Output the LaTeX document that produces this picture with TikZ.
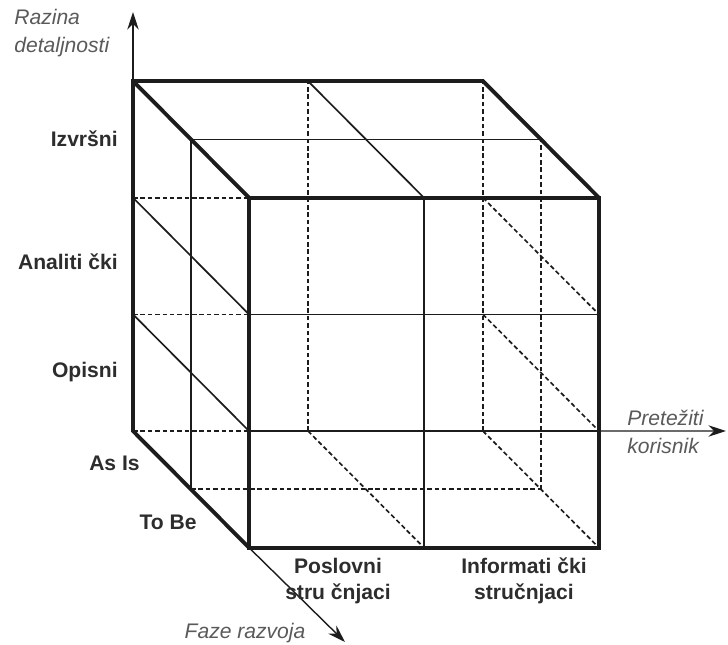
\documentclass[tikz,border=0pt]{standalone}
\usepackage{fontspec}
\setmainfont{Liberation Sans}
\usetikzlibrary{arrows.meta}
\definecolor{cubeEdge}{RGB}{28,28,28}
\definecolor{cubeText}{RGB}{45,45,45}
\definecolor{axisText}{RGB}{90,90,90}
\tikzset{
    cube/.style={>={Stealth[length=10pt,width=6.5pt]}, line join=miter},
    edge/.style={draw=cubeEdge, line width=2.2pt},
    grid/.style={draw=cubeEdge, line width=0.95pt},
    hidden/.style={draw=cubeEdge, line width=0.95pt,
                   dash pattern=on 2.6pt off 1.6pt},
    axis/.style={->, draw=cubeEdge, line width=0.8pt},
    level/.style={font=\fontsize{12}{15}\selectfont\bfseries, text=cubeText,
                  inner sep=0pt, align=center},
    axislabel/.style={font=\fontsize{12}{16}\selectfont\itshape, text=axisText,
                      inner sep=0pt, align=left},
}

\begin{document}
\begin{tikzpicture}[cube, x=0.02cm, y=-0.02cm]
\useasboundingbox (0,0) rectangle (728,645);

% ─── Kocka: x = korisnik, y = faza, z = razina ─────────────────────────
\begin{scope}[shift={(133,431)}, x={(7cm,0cm)}, y={(2.32cm,-2.333cm)},
              z={(0cm,7cm)}]
  \coordinate (bbl) at (0,0,0);  \coordinate (bbr) at (1,0,0);
  \coordinate (btl) at (0,0,1);  \coordinate (btr) at (1,0,1);
  \coordinate (fbl) at (0,1,0);  \coordinate (fbr) at (1,1,0);
  \coordinate (ftl) at (0,1,1);  \coordinate (ftr) at (1,1,1);
  \coordinate (fr1) at (1,1,1/3);

  % skrivene linije
  \foreach \h in {0,1/3,2/3}
    \draw[hidden] (0,0,\h) -- (1,0,\h);
  \foreach \w in {0.5,1}
    \draw[hidden] (\w,0,0) -- (\w,0,1);
  \foreach \h in {1/3,2/3}
    \draw[hidden] (1,0,\h) -- (1,1,\h);
  \draw[hidden] (1,0.5,0) -- (1,0.5,1);
  \foreach \w in {0.5,1}
    \draw[hidden] (\w,0,0) -- (\w,1,0);
  \draw[hidden] (0,0.5,0) -- (1,0.5,0);

  % vidljiva podjela
  \draw[grid] (0,0.5,0) -- (0,0.5,1);
  \foreach \h in {1/3,2/3}
    \draw[grid] (0,0,\h) -- (0,1,\h);
  \draw[grid] (0.5,0,1) -- (0.5,1,1);
  \draw[grid] (0,0.5,1) -- (1,0.5,1);
  \draw[grid] (0.5,1,0) -- (0.5,1,1);
  \foreach \h in {1/3,2/3}
    \draw[grid] (0,1,\h) -- (1,1,\h);

  % rubovi
  \draw[edge] (fbl) -- (fbr) -- (ftr) -- (ftl) -- cycle;
  \draw[edge] (fbl) -- (bbl) -- (btl) -- (btr) -- (ftr);
  \draw[edge] (btl) -- (ftl);
\end{scope}

% ─── Osi ────────────────────────────────────────────────────────────────
\coordinate (ztip) at (133,12);
\coordinate (xtip) at (726,431);
\coordinate (ytip) at (345,642);
\draw[axis] (btl) -- (ztip);
\draw[axis] (fr1) -- (xtip);
\draw[axis] (fbl) -- (ytip);

% ─── Oznake ─────────────────────────────────────────────────────────────
\node[axislabel, anchor=west] (razina) at (14,33) {Razina\\detaljnosti};
\node[axislabel, anchor=west] (korisnik) at (627,432) {Pretežiti\\korisnik};
\node[axislabel] (faze) at (245,633) {Faze razvoja};

\node[level, anchor=east] (izvrsni) at (118,139) {Izvršni};
\node[level, anchor=east] (analiticki) at (118,262) {Analiti čki};
\node[level, anchor=east] (opisni) at (118,372) {Opisni};
\node[level, anchor=east] (asis) at (140,463) {As Is};
\node[level, anchor=east] (tobe) at (197,522) {To Be};
\node[level] (poslovni) at (338,581) {Poslovni\\stru čnjaci};
\node[level] (informaticki) at (524,581) {Informati čki\\stručnjaci};

\end{tikzpicture}
\end{document}
